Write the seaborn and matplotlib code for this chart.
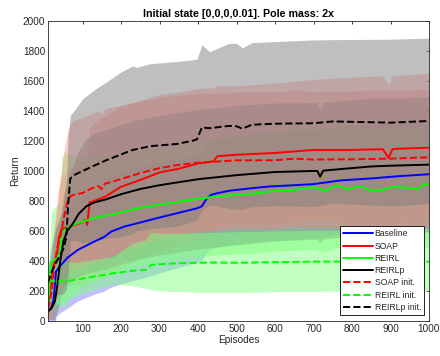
import numpy as np
import pandas as pd
import matplotlib
matplotlib.use("Agg")
import matplotlib.pyplot as plt
import seaborn as sns

# ---------------- data ----------------
TITLE = "Initial state [0,0,0,0.01]. Pole mass: 2x"
XTICKS = [100, 200, 300, 400, 500, 600, 700, 800, 900, 1000]
YTICKS = [0, 200, 400, 600, 800, 1000, 1200, 1400, 1600, 1800, 2000]

# Baseline
BL_EP = [10, 18, 25, 31, 40, 60, 87, 130, 156, 174, 208, 258, 300, 345, 397, 410, 423, 435, 449, 483, 550, 587, 650, 700, 770, 850, 920, 1000]
BL_MEAN = [70, 80, 150, 330, 362, 420, 473, 529, 560, 596, 629, 662, 690, 718, 751, 765, 818, 842, 851, 869, 888, 897, 905, 912, 937, 950, 965, 978]
BL_STD = [60, 120, 250, 300, 310, 335, 340, 350, 360, 370, 375, 375, 370, 365, 360, 360, 360, 360, 360, 360, 360, 360, 360, 360, 360, 360, 360, 360]

# SOAP
SO_EP = [10, 18, 24, 33, 38, 45, 60, 80, 100, 108, 112, 118, 130, 160, 200, 250, 300, 350, 400, 440, 450, 500, 600, 700, 800, 880, 895, 905, 920, 1000]
SO_MEAN = [70, 250, 370, 420, 550, 610, 625, 640, 660, 675, 640, 790, 800, 830, 895, 940, 990, 1015, 1050, 1064, 1098, 1108, 1120, 1140, 1140, 1145, 1087, 1145, 1148, 1155]
SO_STD = [60, 150, 220, 280, 330, 360, 380, 400, 420, 430, 430, 500, 520, 540, 540, 530, 520, 510, 500, 490, 470, 460, 465, 470, 485, 490, 490, 490, 490, 495]

# REIRL
RL_EP = [10, 14, 18, 26, 35, 42, 46, 55, 65, 87, 130, 180, 250, 300, 350, 400, 450, 500, 550, 600, 650, 700, 730, 760, 790, 820, 850, 880, 910, 940, 970, 990, 1000]
RL_MEAN = [55, 250, 385, 405, 430, 450, 590, 610, 630, 652, 686, 712, 755, 775, 795, 815, 830, 842, 850, 868, 875, 890, 868, 905, 878, 900, 870, 875, 896, 888, 880, 912, 908]
RL_STD = [40, 200, 330, 350, 340, 350, 500, 520, 480, 440, 420, 400, 385, 380, 380, 385, 390, 395, 400, 400, 405, 410, 410, 415, 415, 415, 415, 415, 415, 415, 415, 420, 420]

# REIRLp
RP_EP = [10, 20, 28, 35, 42, 50, 60, 75, 90, 110, 130, 160, 200, 250, 300, 350, 400, 500, 600, 700, 710, 717, 725, 760, 850, 900, 1000]
RP_MEAN = [62, 90, 130, 250, 400, 530, 600, 650, 715, 765, 790, 810, 845, 880, 905, 925, 945, 972, 993, 1000, 1000, 962, 1002, 1010, 1030, 1035, 1042]
RP_STD = [50, 80, 120, 180, 250, 300, 350, 380, 420, 450, 460, 465, 465, 465, 465, 465, 465, 465, 460, 455, 455, 440, 455, 455, 455, 450, 450]

# SOAP init.
SI_EP = [10, 20, 26, 35, 44, 52, 62, 70, 80, 100, 120, 140, 150, 158, 165, 200, 250, 300, 350, 400, 500, 600, 650, 700, 800, 900, 1000]
SI_MEAN = [80, 200, 363, 497, 585, 697, 810, 835, 842, 853, 880, 900, 880, 915, 920, 946, 986, 1019, 1041, 1055, 1071, 1071, 1082, 1076, 1078, 1082, 1091]
SI_STD = [80, 180, 250, 330, 400, 440, 470, 490, 500, 500, 500, 500, 500, 500, 500, 490, 480, 470, 465, 460, 455, 455, 455, 455, 455, 455, 455]

# REIRL init.
RI_EP = [10, 30, 55, 80, 105, 130, 180, 230, 265, 272, 280, 300, 345, 430, 500, 600, 700, 800, 900, 1000]
RI_MEAN = [270, 263, 265, 274, 285, 296, 318, 335, 341, 360, 374, 378, 385, 390, 388, 392, 396, 396, 395, 396]
RI_LO = [150, 110, 130, 160, 185, 205, 245, 235, 215, 212, 207, 203, 196, 190, 190, 195, 198, 200, 200, 200]
RI_HI = [400, 420, 400, 390, 400, 410, 430, 520, 540, 580, 590, 585, 585, 590, 595, 600, 605, 605, 610, 610]

# REIRLp init.
PI_EP = [10, 20, 30, 40, 50, 58, 62, 68, 80, 100, 130, 160, 200, 230, 240, 276, 345, 384, 397, 410, 430, 480, 500, 515, 540, 600, 700, 750, 900, 1000]
PI_MEAN = [255, 330, 385, 430, 480, 560, 760, 950, 975, 1000, 1035, 1070, 1110, 1140, 1145, 1165, 1180, 1200, 1210, 1290, 1285, 1300, 1298, 1282, 1308, 1315, 1318, 1330, 1322, 1333]
PI_STD = [95, 180, 230, 250, 300, 350, 450, 420, 435, 480, 505, 520, 550, 560, 545, 550, 549, 540, 535, 550, 510, 550, 552, 538, 547, 547, 555, 545, 556, 552]

# ---------------- style ----------------
sns.set_style("white")
plt.rcParams["font.family"] = ["Liberation Sans", "DejaVu Sans"]
plt.rcParams["axes.linewidth"] = 0.6
DARK = (0.15, 0.15, 0.15)

fig = plt.figure(figsize=(4.4, 3.56), dpi=100)
ax = fig.add_axes([0.109, 0.0983, 0.866, 0.843])

def ms(mean, std):
    m = np.asarray(mean, float)
    s = np.asarray(std, float)
    return m - s, m + s

def pastel(c):
    return tuple(0.5 * v + 0.5 for v in c)

# name, x, mean, lower, upper, colour, linestyle, band alpha
series = [
    ("Baseline", BL_EP, BL_MEAN, *ms(BL_MEAN, BL_STD), (0, 0, 1), "-", 0.5),
    ("SOAP", SO_EP, SO_MEAN, *ms(SO_MEAN, SO_STD), (1, 0, 0), "-", 0.4),
    ("REIRL", RL_EP, RL_MEAN, *ms(RL_MEAN, RL_STD), (0, 1, 0), "-", 0.5),
    ("REIRLp", RP_EP, RP_MEAN, *ms(RP_MEAN, RP_STD), (0, 0, 0), "-", 0.5),
    ("SOAP init.", SI_EP, SI_MEAN, *ms(SI_MEAN, SI_STD), (1, 0, 0), "--", 0.4),
    ("REIRL init.", RI_EP, RI_MEAN, np.asarray(RI_LO, float), np.asarray(RI_HI, float), (0, 1, 0), "--", 0.5),
    ("REIRLp init.", PI_EP, PI_MEAN, *ms(PI_MEAN, PI_STD), (0, 0, 0), "--", 0.5),
]

for name, ep, mean, lo, hi, col, ls, al in series:
    ax.fill_between(ep, lo, hi, color=pastel(col), alpha=al, linewidth=0)

for name, ep, mean, lo, hi, col, ls, al in series:
    df = pd.DataFrame({"Episodes": ep, "Return": mean})
    sns.lineplot(data=df, x="Episodes", y="Return", ax=ax, color=col,
                 linestyle=ls, linewidth=1.4, label=name,
                 estimator=None, sort=False)

ax.set_xlim(10, 1000)
ax.set_ylim(0, 2000)
ax.set_xticks(XTICKS)
ax.set_yticks(YTICKS)
ax.tick_params(direction="in", length=2.5, width=0.6, top=True, right=True,
               labelsize=7.2, colors=DARK, pad=2)
for sp in ax.spines.values():
    sp.set_color(DARK)
    sp.set_linewidth(0.6)

ax.set_xlabel("Episodes", fontsize=7.3, color=DARK, labelpad=1)
ax.set_ylabel("Return", fontsize=7.3, color=DARK, labelpad=2)
ax.set_title(TITLE, fontsize=7.7, fontweight="bold", color="black", pad=3)

leg = ax.legend(loc="lower right", bbox_to_anchor=(0.987, 0.02), borderaxespad=0,
                fontsize=6.2, handlelength=3.5, handletextpad=0.2, labelspacing=0.38,
                borderpad=0.35, frameon=True, fancybox=False, framealpha=1)
leg.get_frame().set_edgecolor("black")
leg.get_frame().set_linewidth(0.6)

fig.savefig("out.png", dpi=100)
